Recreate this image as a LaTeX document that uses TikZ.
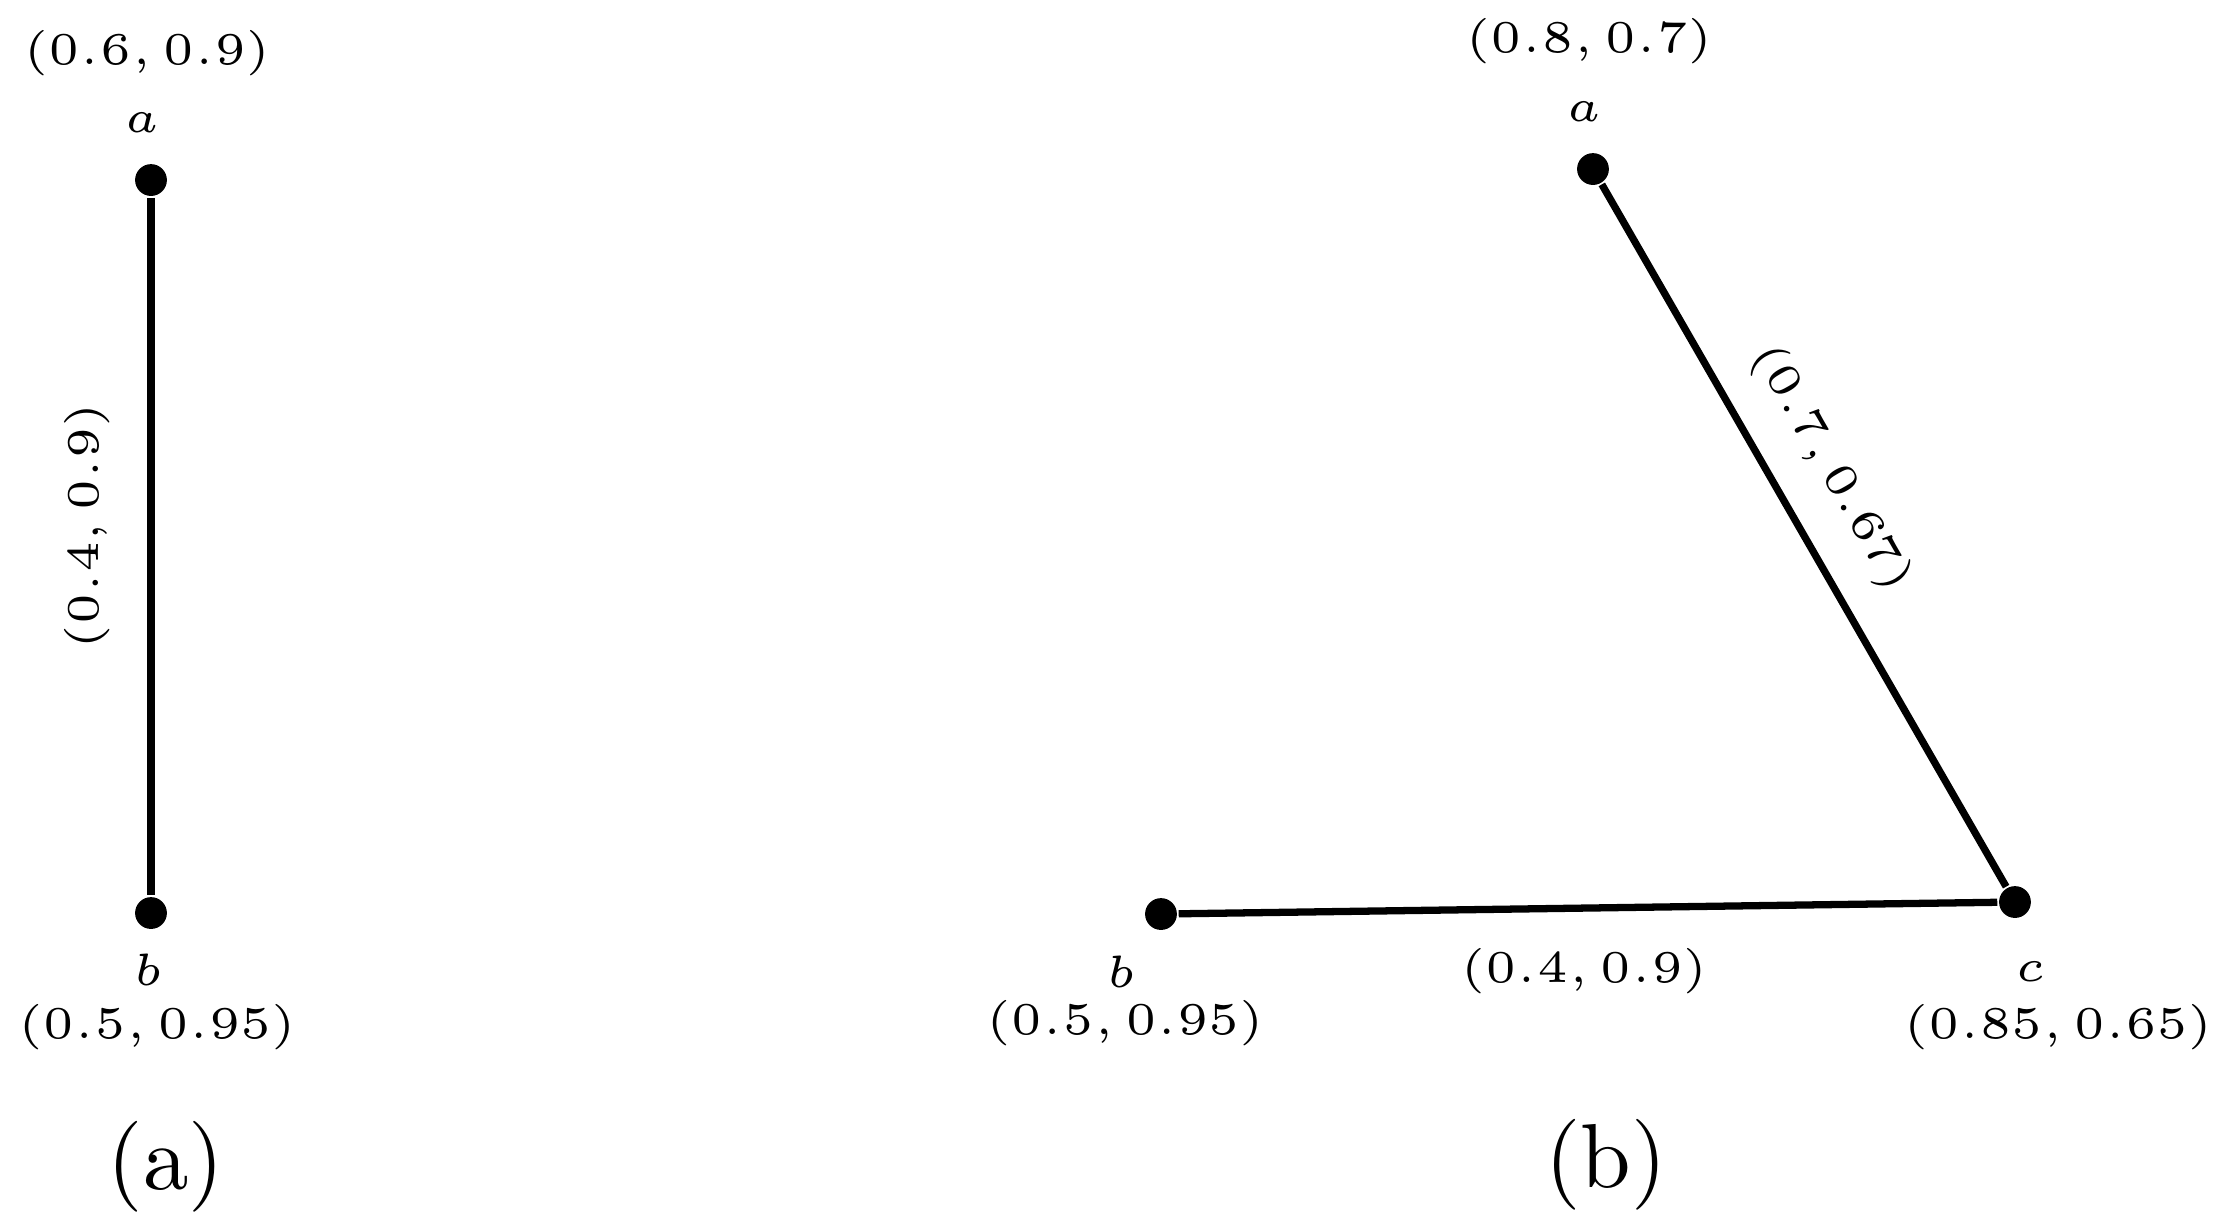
\documentclass[tikz,border=0pt]{standalone}
\usepackage{fontspec}
\begin{document}
\begin{tikzpicture}[x=0.11pt,y=-0.11pt,
  vdot/.style={circle,fill=black,inner sep=0pt,minimum size=3.5pt},
  edge/.style={line width=0.8pt},
  coordlbl/.style={inner sep=0pt,font=\tiny},
  letter/.style={inner sep=0pt,anchor=base,font=\tiny},
  caption/.style={inner sep=0pt,font=\normalsize}]
\useasboundingbox (0,0) rectangle (2228,1230);
% ---- (a)
\node[vdot] (a1) at (151,180) {};
\node[vdot] (b1) at (151,913) {};
\draw[edge] (a1) -- (b1);
\node[letter] (la1) at (142,132) {$a$};
\node[coordlbl] (ca1) at (147,53) {$(0.6, 0.9)$};
\node[letter] (lb1) at (148,985) {$b$};
\node[coordlbl] (cb1) at (157,1027) {$(0.5, 0.95)$};
\node[coordlbl,rotate=90] (e1) at (87,526) {$(0.4, 0.9)$};
\node[caption] (capa) at (166,1167) {(a)};
% ---- (b)
\node[vdot] (a2) at (1593,169) {};
\node[vdot] (b2) at (1161,914) {};
\node[vdot] (c2) at (2015,902) {};
\draw[edge] (a2) -- (c2);
\draw[edge] (b2) -- (c2);
\node[letter] (la2) at (1584,121) {$a$};
\node[coordlbl] (ca2) at (1589,41) {$(0.8, 0.7)$};
\node[letter] (lb2) at (1121,987) {$b$};
\node[coordlbl] (cb2) at (1125,1023) {$(0.5, 0.95)$};
\node[letter] (lc2) at (2030,981) {$c$};
\node[coordlbl] (cc2) at (2058,1027) {$(0.85, 0.65)$};
\node[coordlbl] (e2) at (1584,971) {$(0.4, 0.9)$};
\node[coordlbl,rotate=-60] (e3) at (1831,468) {$(0.7, 0.67)$};
\node[caption] (capb) at (1606,1165) {(b)};
\end{tikzpicture}
\end{document}
